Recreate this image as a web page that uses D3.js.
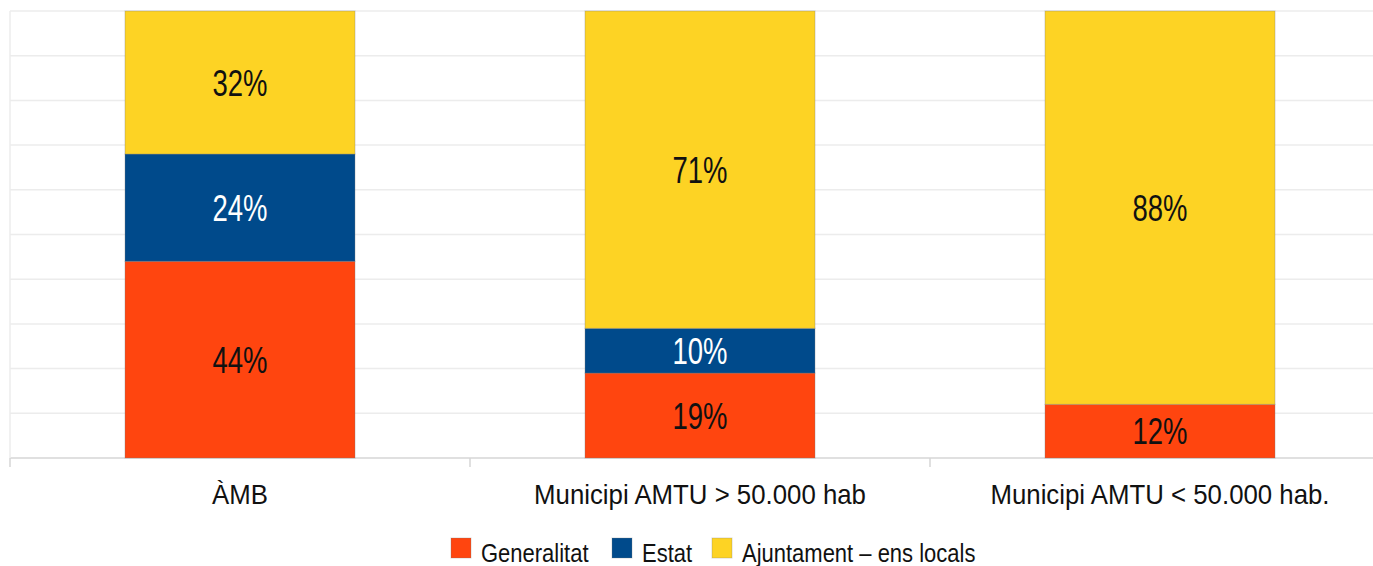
<!DOCTYPE html>
<html>
<head>
<meta charset="utf-8">
<script src="https://cdn.jsdelivr.net/npm/d3@7"></script>
<style>
  body { margin: 0; background: #fff; }
  text { font-family: "Liberation Sans", Arial, sans-serif; }
</style>
</head>
<body>
<div id="container"></div>
<script>
let w = 1373;
let h = 566;

// data
let categories = ["ÀMB", "Municipi AMTU > 50.000 hab", "Municipi AMTU < 50.000 hab."];
let seriesNames = ["Generalitat", "Estat", "Ajuntament – ens locals"];
let generalitat = [44, 19, 12];
let estat = [24, 10, 0];
let ajuntament = [32, 71, 88];
let yTicks = [0, 10, 20, 30, 40, 50, 60, 70, 80, 90, 100];

let colors = ["#ff450f", "#004a8b", "#fdd324"];
let textColors = ["#111", "#fff", "#111"];

let rows = categories.map((c, i) => ({
  cat: c,
  "Generalitat": generalitat[i],
  "Estat": estat[i],
  "Ajuntament – ens locals": ajuntament[i]
}));

let viz = d3.select("#container")
  .append("svg")
    .attr("width", w)
    .attr("height", h)
    .style("display", "block")
    .style("background-color", "#fff");

let x = d3.scaleBand()
  .domain(categories)
  .range([10, 1390])
  .paddingInner(0.5)
  .paddingOuter(0.25);

let y = d3.scaleLinear()
  .domain([0, 100])
  .range([458, 11]);

// gridlines
viz.append("g").selectAll("line").data(yTicks).enter()
  .append("line")
    .attr("x1", 10)
    .attr("x2", 1390)
    .attr("y1", d => y(d))
    .attr("y2", d => y(d))
    .attr("stroke", d => d == 0 ? "#d6d6d6" : "#ececec")
    .attr("stroke-width", 1.5);

// left frame line
viz.append("line")
  .attr("x1", 10).attr("x2", 10)
  .attr("y1", y(100)).attr("y2", y(0))
  .attr("stroke", "#ececec")
  .attr("stroke-width", 1.5);

// category boundary ticks
let bounds = categories.map(c => x(c) - x.step() * 0.25).concat([x(categories[2]) + x.step() * 0.75]);
viz.append("g").selectAll("line").data(bounds).enter()
  .append("line")
    .attr("x1", d => d).attr("x2", d => d)
    .attr("y1", y(0)).attr("y2", y(0) + 9)
    .attr("stroke", "#d6d6d6")
    .attr("stroke-width", 1.5);

// stacked bars
let stack = d3.stack().keys(seriesNames);
let series = stack(rows);

let layers = viz.selectAll(".layer").data(series).enter()
  .append("g")
    .attr("class", "layer");

layers.each(function(s, si) {
  let g = d3.select(this);
  let segs = s.filter(d => d[1] - d[0] > 0);

  g.selectAll("rect").data(segs).enter()
    .append("rect")
      .attr("x", d => x(d.data.cat))
      .attr("y", d => y(d[1]))
      .attr("width", x.bandwidth())
      .attr("height", d => y(d[0]) - y(d[1]))
      .attr("fill", colors[si])
      .attr("stroke", "rgba(120,120,120,0.35)")
      .attr("stroke-width", 1);

  g.selectAll("text").data(segs).enter()
    .append("text")
      .text(d => (d[1] - d[0]) + "%")
      .attr("text-anchor", "middle")
      .attr("transform", d => "translate(" + (x(d.data.cat) + x.bandwidth() / 2) + "," + ((y(d[0]) + y(d[1])) / 2 + 13) + ") scale(1,1.32)")
      .style("font-size", "27.5px")
      .attr("fill", textColors[si]);
});

// category labels
viz.append("g").selectAll("text").data(categories).enter()
  .append("text")
    .text(d => d)
    .attr("text-anchor", "middle")
    .attr("transform", d => "translate(" + (x(d) + x.bandwidth() / 2) + ",504) scale(1,1.06)")
    .style("font-size", "25.8px")
    .attr("fill", "#111");

// legend
let legendX = [451, 612, 712];
let legend = viz.selectAll(".legendItem").data(seriesNames).enter()
  .append("g")
    .attr("class", "legendItem")
    .attr("transform", (d, i) => "translate(" + legendX[i] + ",538)");

legend.append("rect")
  .attr("width", 20)
  .attr("height", 20)
  .attr("fill", (d, i) => colors[i])
  .attr("stroke", "rgba(120,120,120,0.3)")
  .attr("stroke-width", 1);

legend.append("text")
  .text(d => d)
  .attr("transform", "translate(30,24) scale(1,1.2)")
  .style("font-size", "22px")
  .attr("fill", "#111");
</script>
</body>
</html>
